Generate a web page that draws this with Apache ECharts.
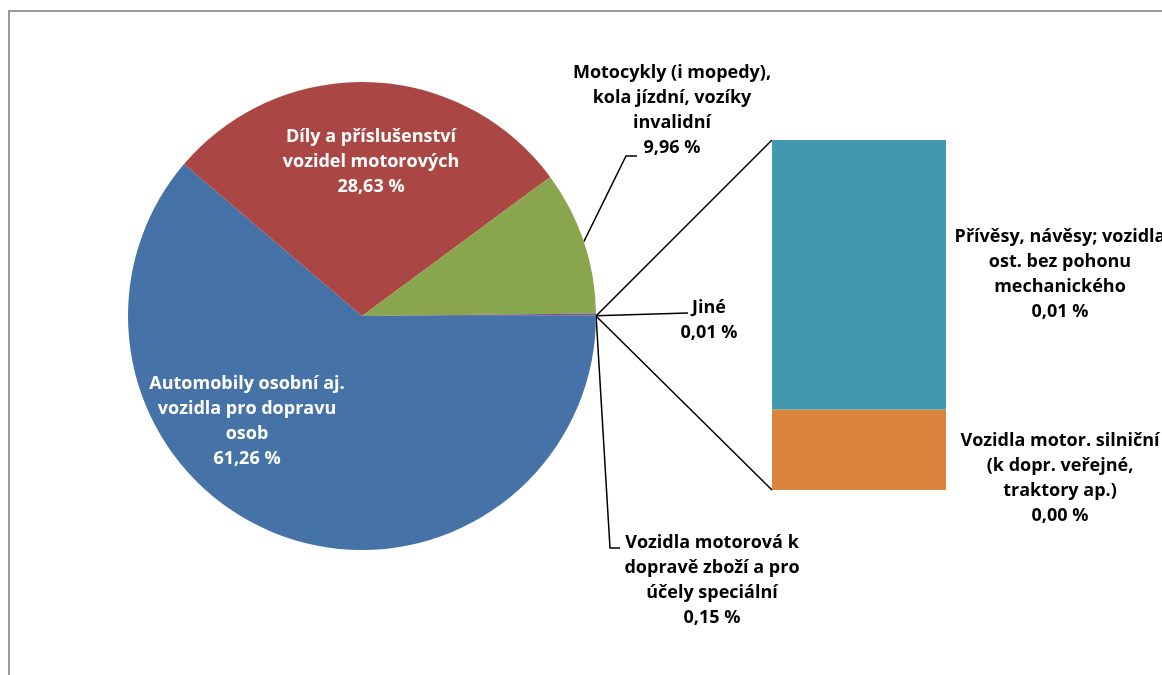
<!DOCTYPE html>
<html>
<head>
<meta charset="utf-8">
<script src="https://cdn.jsdelivr.net/npm/echarts@6/dist/echarts.min.js"></script>
<style>
html, body { margin: 0; padding: 0; background: #fff; }
#main { width: 1162px; height: 675px; }
</style>
</head>
<body>
<div id="main"></div>
<script>
// pie slices (% of total), clockwise from 3 o'clock
var pieNames = [
    'Automobily osobní aj.\nvozidla pro dopravu\nosob',
    'Díly a příslušenství\nvozidel motorových',
    'Motocykly (i mopedy),\nkola jízdní, vozíky\ninvalidní',
    'Vozidla motorová k\ndopravě zboží a pro\núčely speciální',
    'Jiné'
];
var pieValues = [61.26, 28.63, 9.96, 0.15, 0.01];
var pieColors = ['#4572A7', '#AA4643', '#89A54E', '#71588F', '#4D5A6A'];

// split-off bar (bottom to top)
var barNames = [
    'Vozidla motor. silniční\n(k dopr. veřejné,\ntraktory ap.)',
    'Přívěsy, návěsy; vozidla\nost. bez pohonu\nmechanického'
];
var barValues = [0.0023, 0.0077];
var barColors = ['#DB843D', '#4198AF'];

// label centres for pie labels
var pieLabelPos = [[247, 421], [371, 162], [672, 110], [712, 580], [709, 320]];
// leader line end (relative to label centre) and horizontal hook length
var leaderEnd = [null, null, [-35, 46, 11], [-92, -32, 10], [-21, -7, 0]];

(function() {
    var chartDom = document.getElementById('main');
    var myChart = echarts.init(chartDom);
    var fnt = '"Open Sans", Lato, sans-serif';

    function pct(v) {
        return v.toFixed(2).replace('.', ',') + ' %';
    }

    var otherValue = barValues.reduce(function(a, b) { return a + b; }, 0);

    var pieData = pieNames.map(function(n, i) {
        var inside = i < 2;
        return {
            name: n,
            value: pieValues[i],
            itemStyle: { color: pieColors[i] },
            label: {
                show: true,
                position: inside ? 'inside' : 'outside',
                color: inside ? '#fff' : '#000'
            },
            labelLine: { show: !inside }
        };
    });
    pieData.push({
        name: 'Ostatní',
        value: otherValue,
        itemStyle: { color: barColors[1] },
        label: { show: false },
        labelLine: { show: false }
    });

    var option = {
        backgroundColor: '#fff',
        animation: false,
        graphic: [{
            type: 'rect',
            shape: { x: 9, y: 11, width: 1300, height: 800 },
            style: { fill: 'none', stroke: '#9a9a9a', lineWidth: 2 },
            silent: true
        }],
        grid: { left: 772, top: 140, width: 174, height: 350 },
        xAxis: { type: 'category', data: ['bar'], show: false },
        yAxis: { type: 'value', min: 0, max: otherValue, show: false },
        series: [{
            name: 'pie',
            type: 'pie',
            center: [362, 316],
            radius: 234,
            startAngle: 0,
            clockwise: true,
            avoidLabelOverlap: false,
            itemStyle: { borderWidth: 0 },
            label: {
                fontFamily: fnt,
                fontWeight: 'bold',
                fontSize: 18,
                lineHeight: 25,
                formatter: function(p) { return p.name + '\n' + pct(p.value); }
            },
            labelLine: {
                lineStyle: { color: '#000', width: 1.5 },
                length: 10,
                length2: 10
            },
            labelLayout: function(params) {
                var i = params.dataIndex;
                var pos = pieLabelPos[i];
                if (!pos) return {};
                var res = { x: pos[0], y: pos[1], align: 'center', verticalAlign: 'middle' };
                var le = leaderEnd[i];
                if (le && params.labelLinePoints) {
                    var start = params.labelLinePoints[0];
                    var ex = pos[0] + le[0], ey = pos[1] + le[1];
                    res.labelLinePoints = [start, [ex - le[2], ey], [ex, ey]];
                }
                return res;
            },
            data: pieData
        }].concat(barNames.map(function(n, i) {
            return {
                name: n,
                type: 'bar',
                stack: 'other',
                barWidth: '100%',
                itemStyle: { color: barColors[i] },
                label: {
                    show: true,
                    position: 'right',
                    distance: 114,
                    align: 'center',
                    offset: i === 0 ? [0, 29] : [0, 0],
                    fontFamily: fnt,
                    fontWeight: 'bold',
                    fontSize: 18,
                    lineHeight: 25,
                    color: '#000',
                    formatter: function(p) { return n + '\n' + pct(p.value); }
                },
                data: [barValues[i]]
            };
        }))
    };

    myChart.setOption(option);

    // connector lines from the pie's "other" slice to the bar
    var model = myChart.getModel();
    var pieLay = model.getSeriesByIndex(0).getData().getItemLayout(pieData.length - 1);
    var mid = (pieLay.startAngle + pieLay.endAngle) / 2;
    var px = pieLay.cx + pieLay.r * Math.cos(mid);
    var py = pieLay.cy + pieLay.r * Math.sin(mid);
    var bx = model.getSeriesByIndex(1).getData().getItemLayout(0).x;
    var yTop = myChart.convertToPixel({ yAxisIndex: 0 }, otherValue);
    var yBot = myChart.convertToPixel({ yAxisIndex: 0 }, 0);
    myChart.setOption({
        graphic: [option.graphic[0], {
            type: 'polyline',
            shape: { points: [[bx, yTop], [px, py], [bx, yBot]] },
            style: { stroke: '#000', lineWidth: 1.5, fill: 'none' },
            silent: true
        }]
    });

    window.addEventListener('resize', function() {
        myChart.resize();
    });
})();
</script>
</body>
</html>
